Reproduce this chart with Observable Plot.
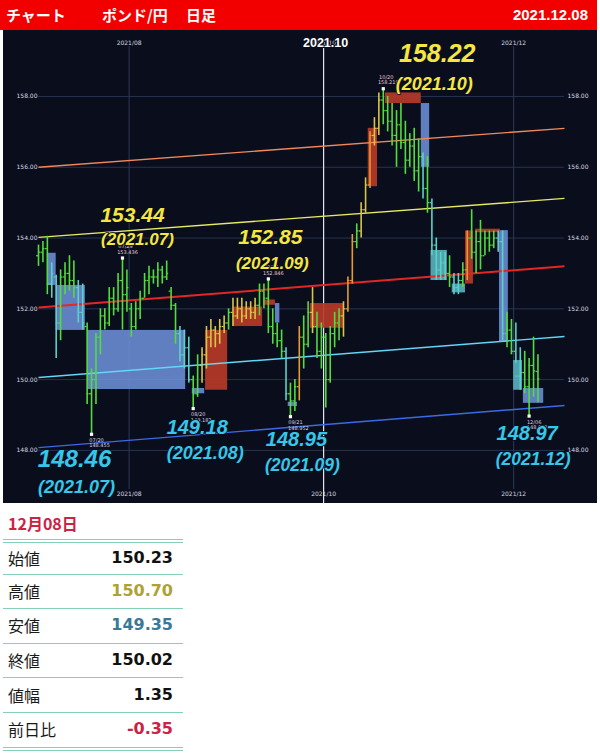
<!DOCTYPE html>
<html><head><meta charset="utf-8">
<script src="https://cdn.jsdelivr.net/npm/d3@7"></script>
<script src="https://cdn.jsdelivr.net/npm/@observablehq/plot@0.6"></script>
<style>
body{margin:0;background:#fff;width:600px;height:753px;position:relative;overflow:hidden;font-family:"Noto Sans CJK JP","Noto Sans",sans-serif;}
#hdr{position:absolute;left:0;top:0;width:597px;height:30px;background:#f20000;color:#fff;font-weight:bold;font-size:15px;}
#hdr span{position:absolute;top:4px;line-height:22px;}
#chart{position:absolute;left:3px;top:30px;width:594px;height:473px;}
#day{position:absolute;left:8px;top:511px;font-size:16px;font-weight:bold;color:#cc2244;line-height:24px;}
.ln{position:absolute;left:3px;width:180px;height:0;border-top:1.6px solid #86d1b6;}
.lab{position:absolute;left:8px;font-size:16px;color:#1a1a1a;line-height:20px;}
.val{position:absolute;left:60px;width:113px;text-align:right;font-family:"DejaVu Sans",sans-serif;font-weight:bold;font-size:16px;color:#111;line-height:20px;}
</style></head>
<body>
<div id="hdr"><span style="left:6px">チャート</span><span style="left:102px">ポンド/円</span><span style="left:186px">日足</span><span style="right:9px;font-family:'Liberation Sans',sans-serif;">2021.12.08</span></div>
<div id="chart"></div>
<div id="day">12月08日</div>
<div id="tbl"></div>
<script>
// ---- data: daily GBP/JPY bars, index 0 = 2021-07-02 ... 113 = 2021-12-08 ----
const opens = [153.5,153.6,153.7,152.7,152.9,151.6,152.9,153.0,152.8,152.6,151.9,151.5,149.6,150.0,151.2,151.8,151.6,152.3,152.0,152.8,
152.4,152.0,151.5,152.0,152.3,152.8,152.9,152.9,153.1,152.9,152.5,152.1,151.3,150.7,150.9,150.0,149.6,150.4,150.7,151.2,
151.4,151.3,151.5,151.6,151.9,151.8,152.0,151.8,152.0,151.9,152.1,152.5,152.3,151.5,151.3,151.1,150.8,149.6,149.4,149.8,
151.2,151.0,151.9,151.5,150.8,151.2,150.0,151.3,151.6,151.8,152.0,152.8,153.9,154.2,154.8,155.5,156.9,157.1,157.9,157.6,
157.3,156.9,157.2,156.7,156.2,156.6,155.9,156.3,155.4,155.0,153.8,153.1,153.3,153.0,152.9,152.6,152.8,153.1,154.0,153.6,
153.9,153.5,154.0,153.8,154.0,153.9,151.3,151.4,150.8,150.1,150.2,149.8,150.4,150.23];
const highs = [153.8,153.9,154.05,153.3,152.95,153.1,153.3,153.5,153.35,152.8,152.7,151.6,150.3,151.3,152.0,152.0,152.6,152.6,153.0,153.436,
153.1,152.15,152.2,152.5,153.0,153.2,153.1,153.3,153.2,153.35,152.6,152.15,151.5,151.4,151.2,150.1,150.7,150.9,151.5,151.7,
151.5,151.7,151.8,152.0,152.3,152.3,152.3,152.2,152.2,152.3,152.7,152.7,152.846,152.0,151.6,151.4,150.9,149.9,150.0,151.5,
151.8,152.2,152.6,151.9,151.6,151.3,151.5,151.9,152.0,152.2,152.9,154.1,154.4,155.0,155.7,157.0,157.4,158.1,158.22,158.0,
157.8,157.6,157.8,157.3,156.95,157.1,156.8,156.4,156.3,155.1,154.0,153.6,153.6,153.5,153.0,153.0,153.3,154.2,154.8,154.2,
154.5,154.2,154.2,154.2,154.2,154.2,151.9,151.7,151.6,150.9,150.8,150.6,151.2,150.70];
const lows = [153.2,153.3,152.4,152.3,150.6,151.1,152.4,152.5,152.3,151.6,151.4,149.3,148.455,149.3,150.7,151.4,151.5,151.8,151.9,151.4,
151.9,151.2,151.4,151.7,152.3,152.4,152.7,152.6,152.7,152.8,151.95,151.0,150.5,150.3,149.9,149.182,149.5,149.9,150.3,150.9,
150.9,151.0,151.3,151.4,151.5,151.7,151.6,151.7,151.7,151.7,151.8,152.0,151.3,151.0,150.9,150.6,149.4,148.952,149.1,149.4,
150.3,150.9,151.3,150.6,150.3,149.2,149.9,150.9,151.1,151.2,151.9,152.7,153.7,154.0,154.7,155.4,156.6,156.9,157.2,157.0,
156.6,156.0,156.5,155.8,156.0,155.6,155.3,155.1,154.7,153.5,152.8,152.8,152.8,152.6,152.4,152.4,152.6,152.8,153.4,153.0,
153.1,153.5,153.6,153.7,153.6,151.1,150.9,150.7,150.46,149.7,149.6,148.97,149.5,149.35];
const closes = [153.6,153.7,152.7,153.0,151.6,152.9,153.0,152.8,152.6,151.9,151.6,149.6,150.0,151.2,151.8,151.6,152.3,152.0,152.8,152.4,
152.6,151.5,152.0,152.3,152.8,152.9,152.9,153.1,152.9,153.0,152.1,151.3,150.7,150.9,150.0,149.6,150.4,150.7,151.2,151.4,
151.3,151.5,151.6,151.9,151.8,152.0,151.8,152.0,151.9,152.1,152.5,152.3,151.5,151.3,151.1,150.8,149.6,149.4,149.8,151.2,
151.0,151.9,151.5,150.8,151.2,150.0,151.3,151.6,151.8,152.0,152.8,153.9,154.2,154.8,155.5,156.9,157.1,157.9,157.6,157.3,
156.9,157.2,156.7,156.2,156.6,155.9,156.3,155.4,155.0,153.8,153.1,153.3,153.0,152.9,152.6,152.8,153.1,154.0,153.6,153.9,
153.5,154.0,153.8,154.0,153.9,151.3,151.4,150.8,150.1,150.2,149.8,150.4,150.25,150.02];
// bar colour class: g green, c cyan, y yellow, o orange
const barKinds = "ggg"+"cc"+"gggg"+"cc"+"ggggggggggggggggggggg"+"ccc"+"gg"+"yyyyyy"+"g"+"yyyyyy"+"gggggg"+"c"+"gg"+"o"+"gg"+"y"+"gggggg"+"y"+"oo"+"g"+"yy"+"o"+"yy"+"ggggggggg"+"c"+"g"+"cccc"+"g"+"cc"+"g"+"o"+"gggggg"+"cc"+"gg"+"cc"+"gggg";
// range boxes: [start index, end index, upper price, lower price, kind]
const blueBoxes = [[2,4,153.57,152.66,"b"],[4,10.6,152.66,151.39,"b"],[11.1,33.3,151.39,149.72,"b"],[34.8,37.6,149.75,149.6,"b"],
[53.6,54.6,152.15,151.6,"b"],[56.5,58.6,149.36,149.24,"b"],[86.6,88.5,157.8,156.0,"b"],[88.8,92.5,153.65,152.8,"t"],
[93.6,96.6,152.7,152.45,"t"],[104.3,106.3,154.21,151.05,"b"],[107.5,109.5,150.54,149.7,"t"],[109.7,114.3,149.75,149.33,"b"]];
const redBoxes = [[37.8,42.8,151.39,149.7],[44.1,50.7,152.05,151.5],[50.9,53.6,152.25,152.1],[61.5,69,152.15,151.45],
[74.6,76.7,157.1,155.45],[78.5,86.6,158.1,157.8],[96.6,98.4,154.2,152.7],[98.9,104.5,154.25,154.15]];
// channel lines
const lineColors = ["#f2875a","#e6ea62","#e42626","#62d6f6","#3a6ae6"];
const lineStart = [156.0,154.02,152.04,150.06,148.08];
const lineEnd = [157.1,155.12,153.2,151.22,149.27];
const lineFrom = 0, lineTo = 119;
// axes
const yTicks = [148,150,152,154,156,158];
const monthTicks = [20.5,64.5,107.5];
const monthLabels = ["2021/08","2021/10","2021/12"];
const cursorIdx = 64.5, cursorLabel = "2021.10";
// extreme markers
const markIdx = [12,19,35,52,57,78,111];
const markPrice = [148.455,153.436,149.182,152.846,148.952,158.219,148.97];
const markDate = ["07/20","07/29","08/20","09/14","09/21","10/20","12/06"];
const markSide = ["low","high","low","high","low","high","low"];
const annoValue = ["158.22","153.44","152.85","148.46","149.18","148.95","148.97"];
const annoPeriod = ["(2021.10)","(2021.07)","(2021.09)","(2021.07)","(2021.08)","(2021.09)","(2021.12)"];
const annoMark = [5,1,3,0,2,4,6];
// table
const rowLabels = ["始値","高値","安値","終値","値幅","前日比"];
const rowValues = ["150.23","150.70","149.35","150.02","1.35","-0.35"];

// ---- styles / layout ----
const kindColor = {g:"#52dc3e", c:"#5ad2c6", y:"#d9c446", o:"#e59a32"};
const boxFill = {b:"#7093dd", t:"#5cbcc8"};
const annoColor = ["#f5e642","#f5e642","#f5e642","#36c6ea","#36c6ea","#36c6ea","#36c6ea"];
const annoLayout = [
 {dx:54,dy:-35,fs:25,dx2:51,dy2:-4,fs2:18},
 {dx:10,dy:-43,fs:21,dx2:15,dy2:-18,fs2:17},
 {dx:2,dy:-42,fs:21,dx2:4,dy2:-15,fs2:17},
 {dx:-17,dy:25,fs:24,dx2:-15,dy2:53,fs2:18},
 {dx:4,dy:19,fs:20,dx2:12,dy2:45,fs2:18},
 {dx:6,dy:23,fs:20,dx2:12,dy2:49,fs2:17.5},
 {dx:-2,dy:18,fs:20,dx2:4,dy2:43,fs2:17.5}];
const rowColors = ["#111","#aea234","#3a7898","#111","#111","#cc2244"];

const bars = opens.map((o,i)=>({i,o,h:highs[i],l:lows[i],c:closes[i],col:kindColor[barKinds[i]]}));
const marks = markIdx.map((i,k)=>({i,p:markPrice[k],d:markDate[k],s:markSide[k],pt:markPrice[k].toFixed(3)}));
const lows_ = marks.filter(m=>m.s==="low"), highs_ = marks.filter(m=>m.s==="high");
const lines = lineColors.map((c,k)=>({c,a:lineStart[k],b:lineEnd[k],w:c==="#e42626"?2:1.4}));

const F = "Liberation Sans, Arial, sans-serif";
const annoMarks = [];
annoValue.forEach((v,k)=>{
  const m = marks[annoMark[k]], L = annoLayout[k];
  annoMarks.push(Plot.text([m],{x:"i",y:"p",text:()=>v,dx:L.dx,dy:L.dy,fontSize:L.fs,fontWeight:"bold",fontStyle:"italic",fontFamily:F,fill:annoColor[k],stroke:"#0a0e1c",strokeWidth:1.5,paintOrder:"stroke"}));
  annoMarks.push(Plot.text([m],{x:"i",y:"p",text:()=>annoPeriod[k],dx:L.dx2,dy:L.dy2,fontSize:L.fs2,fontWeight:"bold",fontStyle:"italic",fontFamily:F,fill:annoColor[k],stroke:"#0a0e1c",strokeWidth:1.5,paintOrder:"stroke"}));
});

const chart = Plot.plot({
  width:594, height:473, margin:0,
  style:{background:"#0a0e1c", overflow:"visible"},
  x:{domain:[-7.92,126.47], axis:null},
  y:{domain:[146.50,159.864], axis:null},
  marks:[
    Plot.ruleY(yTicks,{y:d=>d,x1:lineFrom,x2:lineTo,stroke:"#26334f",strokeWidth:1}),
    Plot.ruleX(monthTicks,{x:d=>d,stroke:"#2b3858",strokeWidth:1,insetTop:16,insetBottom:14}),
    Plot.ruleX([cursorIdx],{x:d=>d,stroke:"#dfe6f2",strokeWidth:1.2,insetTop:17}),
    Plot.rect(blueBoxes,{x1:d=>d[0],x2:d=>d[1],y1:d=>d[2],y2:d=>d[3],fill:d=>boxFill[d[4]],fillOpacity:0.85}),
    Plot.rect(redBoxes,{x1:d=>d[0],x2:d=>d[1],y1:d=>d[2],y2:d=>d[3],fill:"#b63826",fillOpacity:0.92}),
    Plot.link(lines,{x1:()=>lineFrom,x2:()=>lineTo,y1:"a",y2:"b",stroke:"c",strokeWidth:"w"}),
    Plot.ruleX(bars,{x:"i",y1:"l",y2:"h",stroke:"col",strokeWidth:1.6}),
    Plot.ruleY(bars,{y:"o",x1:d=>d.i-0.45,x2:d=>d.i,stroke:"col",strokeWidth:1.2}),
    Plot.ruleY(bars,{y:"c",x1:d=>d.i,x2:d=>d.i+0.45,stroke:"col",strokeWidth:1.2}),
    Plot.text(yTicks,{y:d=>d,frameAnchor:"left",dx:13,textAnchor:"start",text:d=>d.toFixed(2),fill:"#d6d8e0",fontSize:6,fontFamily:"DejaVu Sans"}),
    Plot.text(yTicks,{y:d=>d,frameAnchor:"right",dx:-30,textAnchor:"start",text:d=>d.toFixed(2),fill:"#d6d8e0",fontSize:6,fontFamily:"DejaVu Sans"}),
    Plot.text(monthTicks,{x:d=>d,frameAnchor:"top",dy:10,text:(d,i)=>monthLabels[i],fill:"#d6d8e0",fontSize:6,fontFamily:"DejaVu Sans"}),
    Plot.text(monthTicks,{x:d=>d,frameAnchor:"bottom",dy:-8,text:(d,i)=>monthLabels[i],fill:"#d6d8e0",fontSize:6,fontFamily:"DejaVu Sans"}),
    Plot.text([cursorIdx],{x:d=>d,frameAnchor:"top",dy:8,dx:2,text:()=>cursorLabel,fill:"#ffffff",fontSize:12.5,fontWeight:"bold",fontFamily:F,stroke:"#0a0e1c",strokeWidth:2,paintOrder:"stroke"}),
    Plot.dot(marks,{x:"i",y:"p",symbol:"square",r:1.8,fill:"#ffffff"}),
    Plot.text(lows_,{x:"i",y:"p",text:"d",dx:5,dy:6,fill:"#dcd0e0",fontSize:5,fontFamily:"DejaVu Sans"}),
    Plot.text(lows_,{x:"i",y:"p",text:"pt",dx:8,dy:11.5,fill:"#dcd0e0",fontSize:5,fontFamily:"DejaVu Sans"}),
    Plot.text(highs_,{x:"i",y:"p",text:"pt",dx:5,dy:-6,fill:"#e8c8d8",fontSize:5,fontFamily:"DejaVu Sans"}),
    Plot.text(highs_,{x:"i",y:"p",text:"d",dx:3,dy:-11.5,fill:"#e8c8d8",fontSize:5,fontFamily:"DejaVu Sans"}),
    ...annoMarks
  ]
});
document.getElementById("chart").appendChild(chart);

// table
const tbl = document.getElementById("tbl");
const sepTop = 573.5, rowH = 34.6, headTop = 542;
let html = `<div class="ln" style="top:539px"></div><div class="ln" style="top:${headTop}px"></div>`;
rowLabels.forEach((l,k)=>{
  const upper = k===0 ? headTop : sepTop + (k-1)*rowH;
  const lower = sepTop + k*rowH;
  const cy = (upper + lower)/2 - 10;
  html += `<div class="lab" style="top:${cy}px">${l}</div><div class="val" style="top:${cy}px;color:${rowColors[k]}">${rowValues[k]}</div>`;
  html += `<div class="ln" style="top:${lower}px"></div>`;
});
html += `<div class="ln" style="top:${sepTop+5*rowH+3}px"></div>`;
tbl.innerHTML = html;
</script>
</body></html>
